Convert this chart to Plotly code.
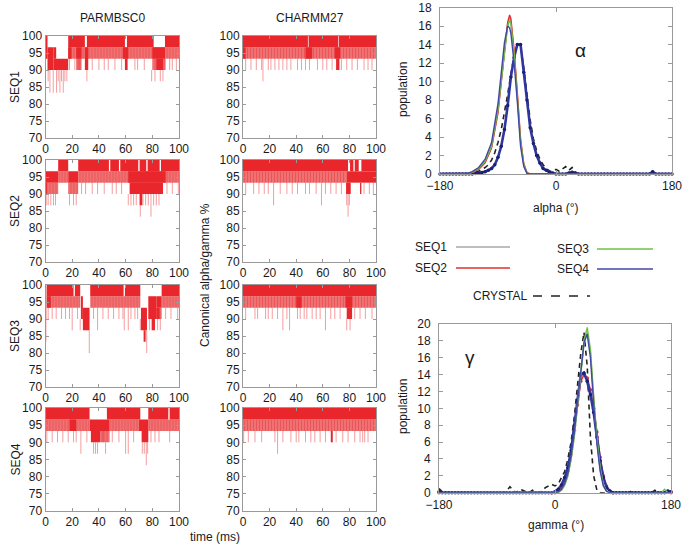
import plotly.graph_objects as go

# ---------------- DATA ----------------
# Left panels: canonical alpha/gamma % vs time (ms)
# solid bands [t0, t1, top, bottom]; hatched (dense) bands; spikes [t, bottom, top]
BSC0_SEQ1_SOLID = [[0, 1.5, 100, 93.33], [1.5, 6, 96.67, 90], [6, 8, 96.67, 93.33], [6, 17, 93.33, 90],
                   [17, 29.5, 100, 96.67], [31, 59.5, 100, 96.67], [61, 81, 100, 96.67], [89.5, 100, 100, 96.67],
                   [17, 19.5, 96.67, 93.33], [23, 27, 96.67, 93.33], [29.5, 32, 96.67, 90], [58, 62, 96.67, 93.33],
                   [59.5, 61.5, 93.33, 90], [80, 89.5, 96.67, 93.33], [83, 88, 93.33, 90]]
BSC0_SEQ1_HATCH = [[17, 100, 96.67, 93.33], [23, 27, 93.33, 90], [80, 90, 93.33, 90]]
BSC0_SEQ1_SPIKES = [[2, 86.67, 90], [3.3, 83.33, 90], [5.8, 83.33, 90], [8.3, 83.33, 90], [10.8, 83.33, 90],
                    [13.3, 83.33, 90], [9.5, 86.67, 90], [12, 86.67, 90], [14.5, 86.67, 90], [16, 86.67, 90],
                    [18, 90, 93.33], [22, 90, 93.33], [25, 90, 93.33], [31, 86.67, 90], [35, 90, 93.33],
                    [40, 90, 93.33], [44, 90, 93.33], [47, 90, 93.33], [52, 90, 93.33], [57, 90, 93.33],
                    [67, 90, 93.33], [69, 90, 93.33], [74, 90, 93.33], [79.5, 86.67, 90], [82, 86.67, 90],
                    [86, 86.67, 90], [88, 86.67, 90], [93, 90, 93.33], [95, 90, 93.33], [98, 90, 93.33]]

CH27_SEQ1_SOLID = [[0, 48.8, 100, 96.67], [49.3, 71.7, 100, 96.67], [72.2, 100, 100, 96.67],
                   [0, 2, 96.67, 93.33], [47, 52, 96.67, 93.33], [69, 73, 96.67, 93.33], [70, 72.5, 93.33, 90]]
CH27_SEQ1_HATCH = [[0, 100, 96.67, 93.33]]
CH27_SEQ1_SPIKES = [[2, 90, 93.33], [6, 90, 93.33], [10, 90, 93.33], [14, 90, 93.33], [15, 86.67, 93.33],
                    [19, 90, 93.33], [21, 90, 93.33], [24, 90, 93.33], [27, 90, 93.33], [30, 90, 93.33],
                    [33, 90, 93.33], [36, 90, 93.33], [41, 90, 93.33], [44, 90, 93.33], [47, 90, 93.33],
                    [50, 90, 93.33], [56, 90, 93.33], [60, 90, 93.33], [63, 90, 93.33], [67, 90, 93.33],
                    [74, 90, 93.33], [78, 90, 93.33], [82, 90, 93.33], [86, 90, 93.33], [91, 90, 93.33],
                    [94, 90, 93.33], [97, 90, 93.33]]

BSC0_SEQ2_SOLID = [[0, 9.5, 96.67, 93.33], [0, 1, 93.33, 90], [9.5, 17, 100, 96.67], [17, 24.5, 96.67, 93.33],
                   [24.5, 47.5, 100, 96.67], [48.5, 55, 100, 96.67], [56, 69.5, 100, 96.67],
                   [70.5, 75.5, 100, 96.67], [76.5, 85.5, 100, 96.67], [86.5, 100, 100, 96.67],
                   [62, 90, 96.67, 93.33], [63, 88, 93.33, 90], [70.5, 72.5, 90, 86.67]]
BSC0_SEQ2_HATCH = [[0, 9.5, 93.33, 90], [9.5, 17, 96.67, 93.33], [17, 24.5, 93.33, 90], [24.5, 100, 96.67, 93.33]]
BSC0_SEQ2_SPIKES = [[0.5, 86.67, 90], [2, 86.67, 90], [4, 86.67, 90], [6, 86.67, 90], [7.5, 86.67, 90],
                    [18, 86.67, 90], [21, 86.67, 90], [23, 86.67, 90], [27, 90, 93.33], [30, 90, 93.33],
                    [35, 90, 93.33], [39, 90, 93.33], [44, 90, 93.33], [50, 90, 93.33], [53, 90, 93.33],
                    [57, 90, 93.33], [62, 86.67, 90], [64, 86.67, 90], [66, 86.67, 90], [68, 86.67, 90],
                    [71, 83.33, 90], [73, 86.67, 90], [75, 86.67, 90], [77, 86.67, 90], [79, 83.33, 90],
                    [81, 86.67, 90], [83, 86.67, 90], [85, 86.67, 90], [91, 90, 93.33], [95, 90, 93.33],
                    [99.5, 90, 93.33]]

CH27_SEQ2_SOLID = [[0, 79, 100, 96.67], [80.5, 83, 100, 96.67], [84, 87, 100, 96.67], [89, 100, 100, 96.67],
                   [78, 100, 96.67, 93.33], [77.5, 81, 93.33, 90], [88, 89, 93.33, 90]]
CH27_SEQ2_HATCH = [[0, 78, 96.67, 93.33]]
CH27_SEQ2_SPIKES = [[2, 90, 93.33], [8, 90, 93.33], [12, 90, 93.33], [16, 90, 93.33], [19, 90, 93.33],
                    [23, 86.67, 93.33], [28, 90, 93.33], [33, 90, 93.33], [37, 90, 93.33], [41, 90, 93.33],
                    [47, 90, 93.33], [50, 90, 93.33], [55, 90, 93.33], [59, 86.67, 93.33], [62, 90, 93.33],
                    [66, 90, 93.33], [70, 90, 93.33], [74, 90, 93.33], [78, 86.67, 90], [79, 83.33, 90],
                    [80, 86.67, 90], [91, 90, 93.33], [95, 90, 93.33], [98, 90, 93.33]]

BSC0_SEQ3_SOLID = [[0, 0.6, 100, 90], [1, 21, 100, 96.67], [22, 26, 100, 96.67], [33.5, 58.5, 100, 96.67],
                   [59.5, 71, 100, 96.67], [87, 100, 100, 96.67], [1, 4, 96.67, 93.33], [26.5, 28, 96.67, 90],
                   [28, 33, 93.33, 86.67], [71.5, 76, 93.33, 86.67], [73.5, 75, 86.67, 83.33],
                   [77, 83, 96.67, 90], [79.5, 82, 90, 86.67], [83, 87, 96.67, 93.33], [83, 85.5, 93.33, 90]]
BSC0_SEQ3_HATCH = [[1, 26, 96.67, 93.33], [33.5, 71, 96.67, 93.33], [87, 100, 96.67, 93.33], [83, 87, 93.33, 90]]
BSC0_SEQ3_SPIKES = [[0.3, 83.33, 90], [2, 90, 93.33], [5, 90, 93.33], [8, 90, 93.33], [12, 90, 93.33],
                    [15, 90, 93.33], [18, 90, 93.33], [20, 86.67, 93.33], [24, 90, 93.33], [26, 86.67, 90],
                    [32.8, 80, 86.67], [36, 90, 93.33], [39, 86.67, 93.33], [43, 90, 93.33], [47, 90, 93.33],
                    [51, 90, 93.33], [55, 90, 93.33], [58, 90, 93.33], [59, 86.67, 93.33], [62, 86.67, 93.33],
                    [64, 90, 93.33], [67, 90, 93.33], [69, 90, 93.33], [71, 86.67, 90], [75.8, 80, 86.67],
                    [78, 86.67, 90], [84, 86.67, 90], [86, 86.67, 90], [90, 90, 93.33], [94, 90, 93.33],
                    [99, 90, 93.33]]

CH27_SEQ3_SOLID = [[0, 100, 100, 96.67], [40, 44, 96.67, 93.33], [77, 82, 96.67, 93.33], [78, 82, 93.33, 90]]
CH27_SEQ3_HATCH = [[0, 100, 96.67, 93.33]]
CH27_SEQ3_SPIKES = [[2, 90, 93.33], [9, 90, 93.33], [11, 90, 93.33], [17, 90, 93.33], [19, 90, 93.33],
                    [22, 90, 93.33], [26, 90, 93.33], [30, 86.67, 93.33], [33, 90, 93.33], [35, 86.67, 93.33],
                    [41, 90, 93.33], [43, 90, 93.33], [46, 90, 93.33], [48, 90, 93.33], [52, 90, 93.33],
                    [55, 90, 93.33], [58, 90, 93.33], [62, 86.67, 93.33], [66, 90, 93.33], [69, 90, 93.33],
                    [73, 90, 93.33], [78, 86.67, 90], [80.5, 86.67, 90], [84, 90, 93.33], [88, 90, 93.33],
                    [92, 90, 93.33], [97, 90, 93.33]]

BSC0_SEQ4_SOLID = [[0, 33, 100, 96.67], [46, 71, 100, 96.67], [77, 92, 100, 96.67], [93, 100, 100, 96.67],
                   [18, 23, 96.67, 93.33], [33, 48, 96.67, 93.33], [70, 77, 96.67, 93.33],
                   [34, 41, 93.33, 90], [72, 77, 93.33, 90]]
BSC0_SEQ4_HATCH = [[0, 33, 96.67, 93.33], [48, 70, 96.67, 93.33], [77, 100, 96.67, 93.33], [41, 48, 93.33, 90]]
BSC0_SEQ4_SPIKES = [[1, 90, 93.33], [5, 90, 93.33], [9, 90, 93.33], [13, 90, 93.33], [17, 90, 93.33],
                    [21, 90, 93.33], [23, 90, 93.33], [26.5, 86.67, 93.33], [31, 90, 93.33], [36, 86.67, 90],
                    [37.5, 86.67, 90], [39, 86.67, 90], [43, 90, 93.33], [45, 86.67, 90], [50, 90, 93.33],
                    [55, 90, 93.33], [60, 86.67, 93.33], [62, 86.67, 93.33], [66, 90, 93.33], [72.5, 86.67, 90],
                    [74, 86.67, 90], [75.5, 83.33, 90], [76.5, 86.67, 90], [79, 90, 93.33], [82, 90, 93.33],
                    [85, 90, 93.33], [93, 90, 93.33]]

CH27_SEQ4_SOLID = [[0, 100, 100, 96.67], [66, 67.5, 93.33, 90]]
CH27_SEQ4_HATCH = [[0, 100, 96.67, 93.33]]
CH27_SEQ4_SPIKES = [[0.5, 90, 93.33], [4, 90, 93.33], [9, 90, 93.33], [14, 90, 93.33], [24, 90, 93.33],
                    [26, 86.67, 93.33], [30, 90, 93.33], [36, 90, 93.33], [40, 90, 93.33], [42, 90, 93.33],
                    [47, 90, 93.33], [51, 90, 93.33], [54, 90, 93.33], [58, 90, 93.33], [62, 90, 93.33],
                    [70, 90, 93.33], [75, 90, 93.33], [79, 90, 93.33], [84, 90, 93.33], [88, 90, 93.33],
                    [90, 90, 93.33], [91.5, 90, 93.33], [94, 90, 93.33]]

TIME_TICKS = [0, 20, 40, 60, 80, 100]
PCT_TICKS = [70, 75, 80, 85, 90, 95, 100]
ROW_LABELS = ["SEQ1", "SEQ2", "SEQ3", "SEQ4"]
COL_TITLES = ["PARMBSC0", "CHARMM27"]

# Right panels: populations vs angle
ANG5 = list(range(-180, 185, 5))  # 5-degree bin centres

ALPHA_X_THIN = [-180, -140, -130, -120, -110, -100, -90, -85, -80, -75, -72, -70, -65, -60, -55, -50, -45, -40, 180]
ALPHA_SEQ1 = [0, 0, 0.2, 0.55, 1.3, 2.9, 6.8, 9.8, 13.3, 16.2, 16.9, 16.5, 13.2, 8.6, 3.6, 1.0, 0.1, 0, 0]
ALPHA_SEQ2 = [0, 0, 0.15, 0.5, 1.2, 2.8, 6.6, 9.6, 13.2, 16.4, 17.2, 16.8, 13.4, 8.8, 3.8, 1.1, 0.15, 0, 0]
ALPHA_SEQ3 = [0, 0, 0.2, 0.6, 1.4, 3.0, 7.0, 10.0, 13.5, 16.0, 16.6, 16.2, 13.0, 8.5, 3.5, 1.0, 0.1, 0, 0]
ALPHA_SEQ4 = [0, 0, 0.25, 0.7, 1.6, 3.4, 7.6, 10.8, 14.2, 16.0, 15.8, 15.2, 12.0, 7.8, 3.0, 0.8, 0.05, 0, 0]
ALPHA_DOTTED = [0, 0, 0, 0, 0, 0, 0, 0, 0, 0, 0,
                0.05, 0.1, 0.15, 0.25, 0.4, 0.6, 1.0, 1.8, 3.0, 4.8,
                7.4, 10.5, 12.6, 14.0, 14.0, 11.0, 8.0, 5.0, 3.3, 2.0,
                1.2, 0.6, 0.4, 0.2, 0.1,
                0, 0, 0, 0, 0.1, 0.2, 0.1, 0, 0, 0,
                0, 0, 0, 0, 0, 0, 0, 0, 0, 0,
                0, 0, 0, 0, 0, 0, 0, 0, 0, 0,
                0.25, 0, 0, 0, 0, 0, 0]
ALPHA_CRYSTAL = [0, 0, 0, 0, 0, 0, 0, 0, 0, 0,
                 0.1, 0.2, 0.3, 0.5, 0.7, 1.0, 1.5, 2.3, 3.4, 4.8,
                 6.5, 8.6, 10.8, 12.8, 14.0, 13.8, 11.5, 8.5, 5.8, 3.8,
                 2.5, 1.6, 1.0, 0.6, 0.3, 0.3,
                 0.5, 0.3, 0.6, 0.8, 0.4, 0.7, 0.2, 0, 0, 0,
                 0, 0, 0, 0, 0, 0, 0, 0, 0, 0,
                 0, 0, 0, 0, 0, 0, 0, 0, 0, 0,
                 0.2, 0, 0, 0, 0, 0, 0]

GAMMA_X_THIN = [-180, 0, 5, 10, 15, 20, 25, 30, 35, 40, 45, 50, 55, 60, 65, 70, 75, 80, 85, 165, 170, 175, 180]
GAMMA_SEQ1 = [0, 0, 0.05, 0.3, 0.9, 2.0, 3.9, 6.6, 10.2, 14.2, 17.6, 19.0, 16.6, 11.2, 6.2, 2.8, 0.9, 0.2, 0, 0, 0, 0, 0]
GAMMA_SEQ3 = [0, 0, 0.05, 0.3, 0.9, 2.0, 4.0, 6.8, 10.5, 14.5, 18.0, 19.6, 17.0, 11.5, 6.5, 3.0, 1.0, 0.2, 0, 0, 0.4, 0, 0]
GAMMA_SEQ4 = [0, 0, 0.1, 0.4, 1.1, 2.3, 4.4, 7.2, 10.8, 14.6, 17.8, 18.8, 16.0, 10.5, 5.8, 2.6, 0.8, 0.15, 0, 0, 0, 0, 0]
GAMMA_X_RED = [-180, -5, 0, 5, 10, 15, 20, 25, 30, 35, 40, 45, 50, 55, 60, 65, 70, 75, 80, 85, 90, 180]
GAMMA_SEQ2 = [0, 0, 0, 0.2, 0.6, 1.4, 2.6, 4.6, 7.4, 10.4, 13.2, 14.0, 13.6, 12.2, 10.0, 7.2, 4.2, 2.0, 0.8, 0.2, 0, 0]
GAMMA_DOTTED = [0.1, 0, 0, 0, 0, 0, 0, 0, 0, 0, 0, 0, 0, 0, 0, 0, 0, 0,
                0, 0, 0, 0, 0, 0, 0, 0, 0, 0, 0, 0, 0, 0, 0, 0, 0, 0,
                0.1, 0.4, 0.9, 1.8, 3.0, 5.0, 8.0, 11.0, 14.0, 14.2,
                13.2, 11.6, 9.5, 6.6, 3.8, 1.8, 0.6, 0.2, 0, 0,
                0, 0, 0, 0, 0, 0, 0, 0, 0, 0,
                0, 0, 0, 0, 0, 0.2, 0.1]
GAMMA_CRYSTAL = [0.5, 0.1, 0,
                 0, 0, 0, 0, 0, 0, 0, 0, 0, 0, 0, 0, 0, 0, 0, 0, 0, 0,
                 0.2, 0.7, 0.3, 0, 0.4, 0.3, 0.1, 0, 0.3, 0, 0, 0.2, 0.6, 0.8, 1.0,
                 0.8, 1.0, 1.8, 2.5, 4.0, 6.0, 9.0, 12.5, 16.5, 19.0,
                 15.0, 6.5, 2.0, 0.3, 0, 0, 0, 0, 0, 0,
                 0, 0, 0, 0, 0.3, 0, 0, 0, 0, 0,
                 0, 0.3, 0, 0, 0, 0, 0]

ANGLE_TICKS = [-180, 0, 180]
ALPHA_YTICKS = list(range(0, 20, 2))
GAMMA_YTICKS = list(range(0, 22, 2))

# ---------------- STYLE / LAYOUT ----------------
W, H = 684, 546
FONT = "Liberation Sans, Arial, Helvetica, sans-serif"
RED = "#e8262b"
C_SEQ1, C_SEQ2, C_SEQ3, C_SEQ4 = "#a8a8a8", "#e0302f", "#6fc24a", "#4248a6"
AXC = "#9a9a9a"


def fx(p):
    return p / W


def fy(p):
    return 1 - p / H


COL_X = [(45.5, 179), (243, 376)]
ROW_Y = [(36, 138), (160, 262), (285, 387), (408, 511)]

PANELS = [
    (0, 0, BSC0_SEQ1_SOLID, BSC0_SEQ1_HATCH, BSC0_SEQ1_SPIKES),
    (0, 1, CH27_SEQ1_SOLID, CH27_SEQ1_HATCH, CH27_SEQ1_SPIKES),
    (1, 0, BSC0_SEQ2_SOLID, BSC0_SEQ2_HATCH, BSC0_SEQ2_SPIKES),
    (1, 1, CH27_SEQ2_SOLID, CH27_SEQ2_HATCH, CH27_SEQ2_SPIKES),
    (2, 0, BSC0_SEQ3_SOLID, BSC0_SEQ3_HATCH, BSC0_SEQ3_SPIKES),
    (2, 1, CH27_SEQ3_SOLID, CH27_SEQ3_HATCH, CH27_SEQ3_SPIKES),
    (3, 0, BSC0_SEQ4_SOLID, BSC0_SEQ4_HATCH, BSC0_SEQ4_SPIKES),
    (3, 1, CH27_SEQ4_SOLID, CH27_SEQ4_HATCH, CH27_SEQ4_SPIKES),
]

fig = go.Figure()
layout = dict(width=W, height=H, margin=dict(l=0, r=0, t=0, b=0, autoexpand=False),
              paper_bgcolor="white", plot_bgcolor="white", showlegend=False,
              barmode="overlay", font=dict(family=FONT, size=12, color="#1a1a1a"),
              annotations=[], shapes=[])


def axname(k):
    return ("x" if k == 1 else f"x{k}"), ("y" if k == 1 else f"y{k}")


def axis_style(**kw):
    d = dict(showline=True, linecolor=AXC, linewidth=1, mirror="ticks", ticks="inside",
             ticklen=3, tickcolor=AXC, showgrid=False, zeroline=False, ticklabeloverflow="allow",
             automargin=False, tickfont=dict(family=FONT, size=12, color="#1a1a1a"))
    d.update(kw)
    return d


def bands_to_bar(bands, xa, ya, marker):
    return go.Bar(x=[(b[0] + b[1]) / 2 for b in bands], y=[b[2] - b[3] for b in bands],
                  base=[b[3] for b in bands], width=[b[1] - b[0] for b in bands],
                  marker=marker, xaxis=xa, yaxis=ya, hoverinfo="skip")


for k, (r, c, solid, hatch, spikes) in enumerate(PANELS, start=1):
    xa, ya = axname(k)
    fig.add_trace(bands_to_bar(hatch, xa, ya, dict(
        color="#ec6a6a", line=dict(width=0),
        pattern=dict(shape="|", fgcolor=RED, bgcolor="#f08484", size=3, solidity=0.6))))
    sx, sy = [], []
    for t, b, tp in spikes:
        sx += [t, t, None]
        sy += [b, tp, None]
    fig.add_trace(go.Scatter(x=sx, y=sy, mode="lines", line=dict(color="rgba(232,38,43,0.45)", width=1),
                             xaxis=xa, yaxis=ya, hoverinfo="skip"))
    fig.add_trace(bands_to_bar(solid, xa, ya, dict(color=RED, line=dict(width=0))))
    x0, x1 = COL_X[c]
    yt, yb = ROW_Y[r]
    kx = "xaxis" if k == 1 else f"xaxis{k}"
    ky = "yaxis" if k == 1 else f"yaxis{k}"
    layout[kx] = axis_style(domain=[fx(x0), fx(x1)], range=[0, 100], anchor=ya,
                            tickvals=TIME_TICKS)
    layout[ky] = axis_style(domain=[fy(yb), fy(yt)], range=[70, 100], anchor=xa,
                            tickvals=PCT_TICKS)

# Alpha panel (k=9) and gamma panel (k=10)
for k, xthin, series, xred, red, dotted, crystal, yt, dom_x, dom_y, yr in [
    (9, ALPHA_X_THIN, [ALPHA_SEQ1, ALPHA_SEQ2, ALPHA_SEQ3, ALPHA_SEQ4], None, None, ALPHA_DOTTED,
     ALPHA_CRYSTAL, ALPHA_YTICKS, (440, 672), (7.5, 174), [0, 18]),
    (10, GAMMA_X_THIN, [GAMMA_SEQ1, None, GAMMA_SEQ3, GAMMA_SEQ4], GAMMA_X_RED, GAMMA_SEQ2, GAMMA_DOTTED,
     GAMMA_CRYSTAL, GAMMA_YTICKS, (439, 671), (324, 492.7), [0, 20]),
]:
    xa, ya = axname(k)
    fig.add_trace(go.Scatter(x=ANG5, y=crystal, mode="lines", xaxis=xa, yaxis=ya,
                             line=dict(color="#222222", width=1.6, dash="5px,4px"), hoverinfo="skip"))
    if red is not None:
        fig.add_trace(go.Scatter(x=xred, y=red, mode="lines+markers", xaxis=xa, yaxis=ya,
                                 line=dict(color=C_SEQ2, width=1.5), marker=dict(size=3.5, color=C_SEQ2),
                                 hoverinfo="skip", cliponaxis=False))
    fig.add_trace(go.Scatter(x=ANG5, y=dotted, mode="lines+markers", xaxis=xa, yaxis=ya,
                             line=dict(color="#3036a0", width=2.6), marker=dict(size=3.5, color="#1c2070"),
                             hoverinfo="skip", cliponaxis=False))
    for ys, col in zip(series, [C_SEQ1, C_SEQ2, C_SEQ3, C_SEQ4]):
        if ys is None:
            continue
        fig.add_trace(go.Scatter(x=xthin, y=ys, mode="lines", xaxis=xa, yaxis=ya,
                                 line=dict(color=col, width=1.4), hoverinfo="skip"))
    layout[f"xaxis{k}"] = axis_style(domain=[fx(dom_x[0]), fx(dom_x[1])], range=[-180, 180], anchor=ya,
                                     tickvals=ANGLE_TICKS, ticklen=4, ticklabelstandoff=1)
    layout[f"yaxis{k}"] = axis_style(domain=[fy(dom_y[1]), fy(dom_y[0])], range=yr, anchor=xa,
                                     tickvals=yt, ticklen=4, ticklabelstandoff=5)

ann = layout["annotations"]


def text(x, y, s, size=12, angle=0, xanchor="center"):
    ann.append(dict(x=fx(x), y=fy(y), xref="paper", yref="paper", text=s, showarrow=False,
                    textangle=angle, xanchor=xanchor, yanchor="middle",
                    font=dict(family=FONT, size=size, color="#1a1a1a")))


text(112, 18, COL_TITLES[0])
text(310, 18, COL_TITLES[1])
for (yt_, yb_), lab in zip(ROW_Y, ROW_LABELS):
    text(15, (yt_ + yb_) / 2, lab, angle=-90)
text(205, 275, "Canonical alpha/gamma %", angle=-90)
text(215, 537, "time (ms)")
text(403, 90, "population", angle=-90)
text(403, 407, "population", angle=-90)
text(556, 208, "alpha (°)")
text(556, 525, "gamma (°)")
text(580, 50, "α", size=19)
text(470, 357, "γ", size=19)

# custom legend
legend_items = [("SEQ1", 449, 456, 510, 247, C_SEQ1, "solid"),
                ("SEQ2", 449, 456, 510, 268, C_SEQ2, "solid"),
                ("SEQ3", 591, 597, 653, 249, C_SEQ3, "solid"),
                ("SEQ4", 591, 597, 653, 269, C_SEQ4, "solid"),
                ("CRYSTAL", 530, 533, 590, 296, "#222222", "dash")]
for lab, tx, lx0, lx1, ly, col, dash in legend_items:
    text(tx, ly, lab, xanchor="right")
    layout["shapes"].append(dict(type="line", xref="paper", yref="paper", x0=fx(lx0), x1=fx(lx1),
                                 y0=fy(ly), y1=fy(ly), line=dict(color=col, width=1.5, dash=dash)))

fig.update_layout(**layout)
fig.write_html("out.html", config={"displayModeBar": False, "staticPlot": True},
               post_script="document.body.style.margin='0';document.body.style.overflow='hidden';")
